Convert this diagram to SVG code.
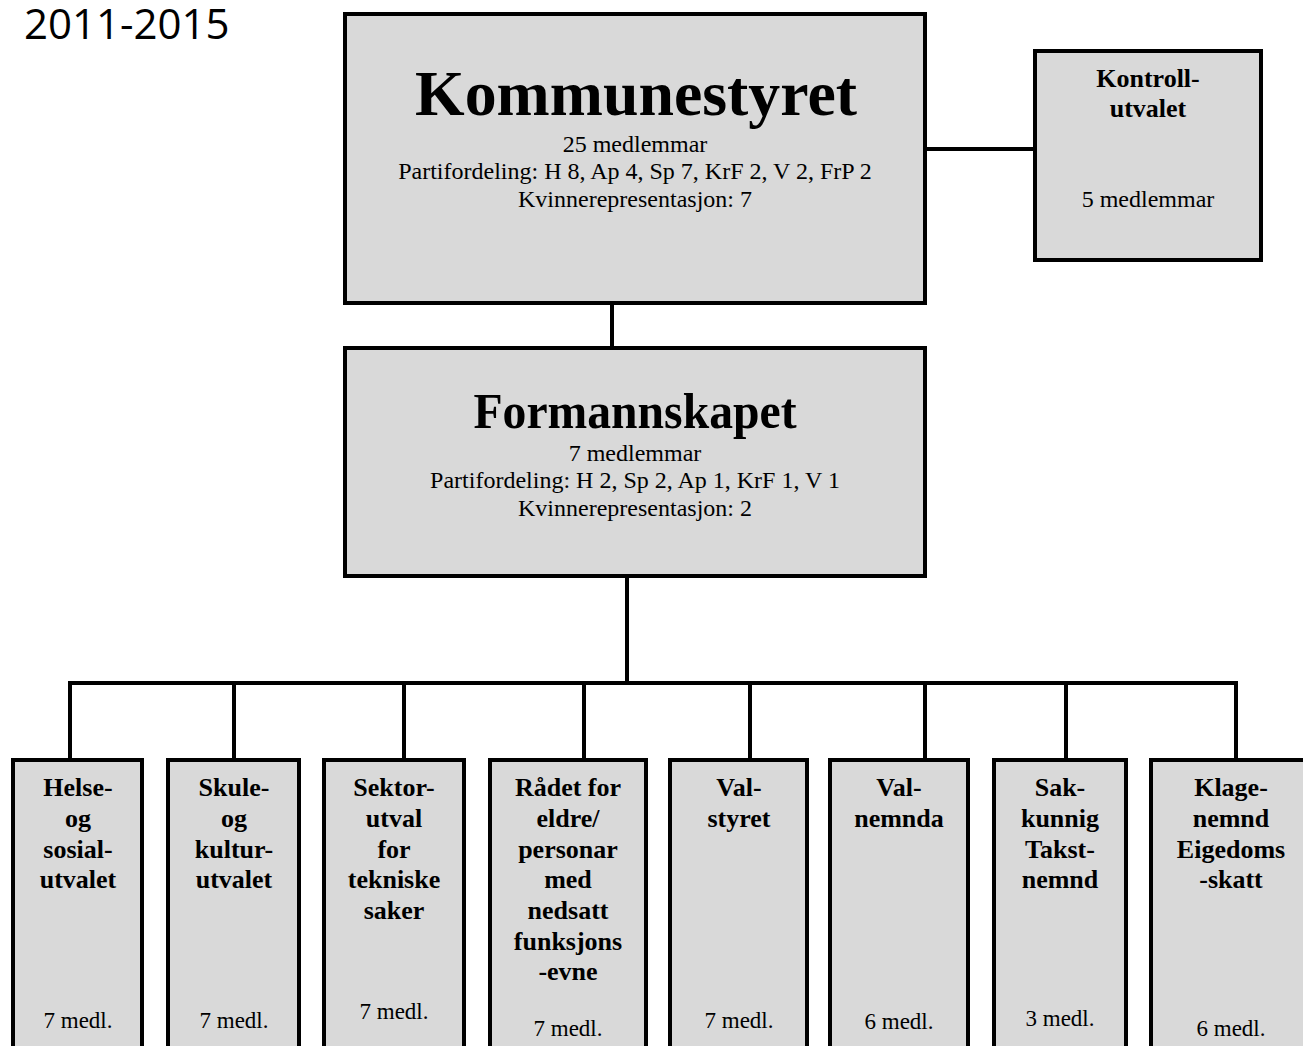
<svg xmlns="http://www.w3.org/2000/svg" width="1303" height="1046" viewBox="0 0 1303 1046">
<style>
.box{fill:#d9d9d9;stroke:#000;stroke-width:4}
.ln{stroke:#000;stroke-width:4;fill:none}
.t{font-family:"Liberation Serif","Times New Roman",serif;fill:#000;text-anchor:middle}
.b{font-weight:bold;font-size:26px}
.r{font-size:24px}
.s{font-size:23px}
</style>
<rect width="1303" height="1046" fill="#fff"/>
<text x="24" y="39" font-family="'Open Sans','Noto Sans',sans-serif" font-size="42" fill="#000">2011-2015</text>
<g id="connectors">
<line class="ln" x1="925" y1="149" x2="1035" y2="149"/>
<line class="ln" x1="612" y1="303" x2="612" y2="348"/>
<line class="ln" x1="627" y1="576" x2="627" y2="683"/>
<line class="ln" x1="68" y1="683" x2="1238" y2="683"/>
<line class="ln" x1="70" y1="683" x2="70" y2="760"/>
<line class="ln" x1="234" y1="683" x2="234" y2="760"/>
<line class="ln" x1="404" y1="683" x2="404" y2="760"/>
<line class="ln" x1="584" y1="683" x2="584" y2="760"/>
<line class="ln" x1="750" y1="683" x2="750" y2="760"/>
<line class="ln" x1="925" y1="683" x2="925" y2="760"/>
<line class="ln" x1="1066" y1="683" x2="1066" y2="760"/>
<line class="ln" x1="1236" y1="683" x2="1236" y2="760"/>
</g>
<g id="kommunestyret">
<rect class="box" x="345" y="14" width="580" height="289"/>
<text class="t" x="636" y="115" font-weight="bold" font-size="63" textLength="442" lengthAdjust="spacingAndGlyphs">Kommunestyret</text>
<text class="t r" x="635" y="152">25 medlemmar</text>
<text class="t r" x="635" y="179">Partifordeling: H 8, Ap 4, Sp 7, KrF 2, V 2, FrP 2</text>
<text class="t r" x="635" y="207">Kvinnerepresentasjon: 7</text>
</g>
<g id="kontrollutvalet">
<rect class="box" x="1035" y="51" width="226" height="209"/>
<text class="t b" x="1148" y="87">Kontroll-</text>
<text class="t b" x="1148" y="117">utvalet</text>
<text class="t r" x="1148" y="207">5 medlemmar</text>
</g>
<g id="formannskapet">
<rect class="box" x="345" y="348" width="580" height="228"/>
<text class="t" x="635" y="428" font-weight="bold" font-size="50" textLength="323" lengthAdjust="spacingAndGlyphs">Formannskapet</text>
<text class="t r" x="635" y="461">7 medlemmar</text>
<text class="t r" x="635" y="488">Partifordeling: H 2, Sp 2, Ap 1, KrF 1, V 1</text>
<text class="t r" x="635" y="516">Kvinnerepresentasjon: 2</text>
</g>
<g id="helse">
<rect class="box" x="13" y="760" width="129" height="300"/>
<text class="t b" x="78" y="796">Helse-</text>
<text class="t b" x="78" y="827">og</text>
<text class="t b" x="78" y="858">sosial-</text>
<text class="t b" x="78" y="888">utvalet</text>
<text class="t s" x="78" y="1028">7 medl.</text>
</g>
<g id="skule">
<rect class="box" x="168" y="760" width="131" height="300"/>
<text class="t b" x="234" y="796">Skule-</text>
<text class="t b" x="234" y="827">og</text>
<text class="t b" x="234" y="858">kultur-</text>
<text class="t b" x="234" y="888">utvalet</text>
<text class="t s" x="234" y="1028">7 medl.</text>
</g>
<g id="sektor">
<rect class="box" x="324" y="760" width="140" height="300"/>
<text class="t b" x="394" y="796">Sektor-</text>
<text class="t b" x="394" y="827">utval</text>
<text class="t b" x="394" y="858">for</text>
<text class="t b" x="394" y="888">tekniske</text>
<text class="t b" x="394" y="919">saker</text>
<text class="t s" x="394" y="1019">7 medl.</text>
</g>
<g id="eldre">
<rect class="box" x="490" y="760" width="156" height="300"/>
<text class="t b" x="568" y="796">Rådet for</text>
<text class="t b" x="568" y="827">eldre/</text>
<text class="t b" x="568" y="858">personar</text>
<text class="t b" x="568" y="888">med</text>
<text class="t b" x="568" y="919">nedsatt</text>
<text class="t b" x="568" y="950">funksjons</text>
<text class="t b" x="568" y="980">-evne</text>
<text class="t s" x="568" y="1036">7 medl.</text>
</g>
<g id="valstyret">
<rect class="box" x="670" y="760" width="137" height="300"/>
<text class="t b" x="739" y="796">Val-</text>
<text class="t b" x="739" y="827">styret</text>
<text class="t s" x="739" y="1028">7 medl.</text>
</g>
<g id="valnemnda">
<rect class="box" x="830" y="760" width="138" height="300"/>
<text class="t b" x="899" y="796">Val-</text>
<text class="t b" x="899" y="827">nemnda</text>
<text class="t s" x="899" y="1029">6 medl.</text>
</g>
<g id="takstnemnd">
<rect class="box" x="994" y="760" width="132" height="300"/>
<text class="t b" x="1060" y="796">Sak-</text>
<text class="t b" x="1060" y="827">kunnig</text>
<text class="t b" x="1060" y="858">Takst-</text>
<text class="t b" x="1060" y="888">nemnd</text>
<text class="t s" x="1060" y="1026">3 medl.</text>
</g>
<g id="klagenemnd">
<rect class="box" x="1151" y="760" width="160" height="300"/>
<text class="t b" x="1231" y="796">Klage-</text>
<text class="t b" x="1231" y="827">nemnd</text>
<text class="t b" x="1231" y="858">Eigedoms</text>
<text class="t b" x="1231" y="888">-skatt</text>
<text class="t s" x="1231" y="1036">6 medl.</text>
</g>
</svg>
